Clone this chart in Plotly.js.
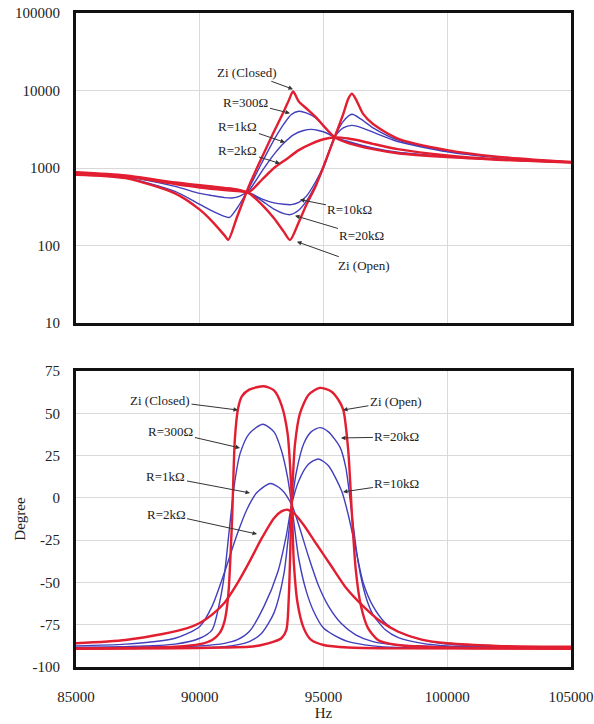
<!DOCTYPE html>
<html>
<head>
<meta charset="utf-8">
<script src="https://cdn.plot.ly/plotly-3.0.1.min.js"></script>
<style>html,body{margin:0;padding:0;background:#fff;}#chart{width:594px;height:724px;}</style>
</head>
<body>
<div id="chart"></div>
<script>
// ---------- Tick labels ----------
const freqTicks = [85000, 90000, 95000, 100000, 105000];
const freqTickText = ['85000', '90000', '95000', '100000', '105000'];
const magTicks = [10, 100, 1000, 10000, 100000];
const magTickText = ['10', '100', '1000', '10000', '100000'];
const phaseTicks = [-100, -75, -50, -25, 0, 25, 50, 75];
const phaseTickText = ['-100', '-75', '-50', '-25', '0', '25', '50', '75'];

// ---------- Impedance magnitude (top) ----------
const magClosedF = [85000, 87000, 89000, 90000, 90500, 91000, 91150, 91500, 92000, 92500, 93000, 93400, 93600, 93770, 94000, 94300, 94700, 95000, 95450, 96000, 97000, 98000, 100000, 102000, 105000];
const magClosedZ = [820, 740, 470, 290, 205, 135, 118, 230, 600, 1350, 2950, 5400, 7500, 9700, 7200, 5900, 4500, 3500, 2500, 2100, 1750, 1550, 1380, 1280, 1180];

const mag300F = [85000, 87000, 89000, 90000, 90500, 91000, 91200, 91500, 92000, 92500, 93000, 93400, 93700, 94000, 94300, 94700, 95000, 95450, 96000, 97000, 98000, 100000, 102000, 105000];
const mag300Z = [830, 750, 500, 340, 280, 238, 230, 300, 560, 1150, 2300, 3700, 4900, 5400, 5150, 4400, 3500, 2500, 2150, 1780, 1570, 1390, 1285, 1180];

const mag1kF = [85000, 87000, 89000, 90000, 90500, 91000, 91300, 91600, 92000, 92500, 93000, 93400, 93800, 94200, 94500, 94800, 95100, 95450, 96000, 97000, 98000, 100000, 102000, 105000];
const mag1kZ = [850, 770, 580, 470, 440, 415, 410, 430, 520, 900, 1500, 2100, 2700, 3050, 3150, 3050, 2850, 2500, 2200, 1820, 1600, 1410, 1295, 1185];

const mag2kF = [85000, 87000, 89000, 90000, 91000, 91500, 92000, 92500, 93000, 93500, 94000, 94500, 95000, 95450, 96000, 96600, 97000, 98000, 100000, 102000, 105000];
const mag2kZ = [860, 780, 620, 560, 520, 505, 495, 700, 1000, 1300, 1700, 2050, 2350, 2480, 2400, 2200, 2050, 1750, 1450, 1300, 1190];

const mag10kF = [85000, 87000, 89000, 90000, 91000, 91500, 92000, 92500, 93000, 93400, 93700, 94000, 94300, 94700, 95000, 95450, 95800, 96150, 96500, 97000, 98000, 100000, 102000, 105000];
const mag10kZ = [875, 795, 640, 590, 545, 520, 480, 400, 355, 340, 337, 360, 430, 680, 1050, 2500, 3300, 3550, 3350, 2900, 2200, 1620, 1370, 1190];

const mag20kF = [85000, 87000, 89000, 90000, 91000, 91500, 92000, 92500, 93000, 93400, 93650, 94000, 94300, 94700, 95000, 95450, 95800, 96150, 96500, 97000, 98000, 100000, 102000, 105000];
const mag20kZ = [878, 798, 645, 595, 550, 525, 475, 380, 295, 258, 250, 285, 370, 620, 1000, 2500, 4000, 4930, 4300, 3300, 2300, 1660, 1390, 1190];

const magOpenF = [85000, 87000, 89000, 90000, 91000, 91500, 92000, 92500, 93000, 93400, 93650, 94000, 94300, 94700, 95000, 95450, 95800, 96000, 96150, 96300, 96600, 97000, 98000, 100000, 102000, 105000];
const magOpenZ = [880, 800, 650, 600, 555, 530, 470, 340, 225, 150, 118, 200, 330, 600, 1050, 2500, 5000, 7800, 9100, 7800, 5000, 3700, 2400, 1700, 1400, 1195];

// ---------- Phase (bottom) ----------
const phClosedF = [85000, 87000, 89000, 90000, 90500, 90800, 91000, 91150, 91300, 91420, 91550, 91700, 92000, 92600, 93000, 93300, 93550, 93700, 93800, 93950, 94200, 94500, 95000, 96000, 98000, 105000];
const phClosedP = [-89, -88.8, -88, -86.5, -84, -80, -73, -58, -15, 35, 53, 60, 64, 66, 63.5, 55, 38, 5, -38, -62, -77, -84, -87, -88.5, -89, -89.2];

const ph300F = [85000, 87000, 89000, 90000, 90500, 90800, 91000, 91200, 91400, 91626, 92000, 92550, 93000, 93300, 93550, 93714, 93850, 94000, 94300, 94600, 95000, 95400, 96000, 97000, 98000, 105000];
const ph300P = [-88.5, -88, -86.5, -83, -78, -62, -45, -18, 8, 26, 38, 43.5, 39, 28, 12, -4, -20, -36, -55, -67, -77, -81, -85, -87.5, -88.5, -89];

const ph1kF = [85000, 87000, 89000, 90000, 90500, 91000, 91500, 91900, 92300, 92850, 93300, 93714, 94000, 94400, 94800, 95200, 95700, 96300, 97000, 98000, 100000, 105000];
const ph1kP = [-87.5, -86.5, -83, -76, -64, -44, -22, -7, 3, 8.5, 5, -4, -16, -35, -52, -64, -74, -81, -85, -87, -88, -88.5];

const ph2kF = [85000, 87000, 88500, 89500, 90000, 90500, 91000, 91500, 92000, 92500, 93000, 93300, 93550, 93800, 94200, 94700, 95300, 95900, 96600, 97300, 98000, 99000, 100000, 102000, 105000];
const ph2kP = [-86, -84, -80.5, -77, -74, -69, -62, -51, -38, -24, -12, -8, -7, -9, -16, -27, -40, -53, -64, -73, -79, -84, -86, -87.5, -88];

const ph10kF = [85000, 89000, 90000, 91000, 91500, 92000, 92600, 93150, 93500, 93714, 94000, 94400, 94800, 95200, 95733, 96000, 96300, 96600, 97000, 97500, 98000, 99000, 100000, 102000, 105000];
const ph10kP = [-88.5, -88, -87.5, -86, -84, -79, -64, -44, -22, -4, 10, 20, 23, 19, 4, -10, -30, -50, -64, -74, -79, -84, -86.5, -88, -88.5];

const ph20kF = [85000, 90000, 91000, 92000, 92500, 93000, 93400, 93714, 93900, 94200, 94500, 94850, 95200, 95666, 95900, 96150, 96400, 96700, 97000, 97500, 98000, 99000, 100000, 102000, 105000];
const ph20kP = [-89, -88.5, -88, -85, -80, -68, -45, -4, 15, 32, 39, 41.5, 39, 30, 18, -10, -38, -58, -69, -78, -82.5, -86, -87.5, -88.5, -89];

const phOpenF = [85000, 89000, 91000, 92000, 92500, 93000, 93300, 93500, 93600, 93714, 93850, 94050, 94400, 94850, 95300, 95600, 95800, 96000, 96150, 96300, 96500, 96800, 97200, 98000, 100000, 105000];
const phOpenP = [-89.2, -89, -88.5, -88, -87, -85, -83, -78, -58, -4, 32, 50, 61, 65, 63, 58, 52, 28, -10, -42, -63, -77, -84, -87, -88.5, -89];

// ---------- Styles ----------
const RED = 'rgb(226,30,48)';
const BLUE = 'rgb(66,62,188)';
function tr(x, y, color, width, xa, ya) {
  return {x: x, y: y, xaxis: xa, yaxis: ya, type: 'scatter', mode: 'lines',
          line: {color: color, width: width, shape: 'spline', smoothing: 0.7},
          hoverinfo: 'skip'};
}

const data = [
  tr(mag300F, mag300Z, BLUE, 1.4, 'x', 'y'),
  tr(mag1kF, mag1kZ, BLUE, 1.4, 'x', 'y'),
  tr(mag10kF, mag10kZ, BLUE, 1.4, 'x', 'y'),
  tr(mag20kF, mag20kZ, BLUE, 1.4, 'x', 'y'),
  tr(mag2kF, mag2kZ, RED, 2.4, 'x', 'y'),
  tr(magClosedF, magClosedZ, RED, 2.4, 'x', 'y'),
  tr(magOpenF, magOpenZ, RED, 2.4, 'x', 'y'),
  tr(ph300F, ph300P, BLUE, 1.4, 'x2', 'y2'),
  tr(ph1kF, ph1kP, BLUE, 1.4, 'x2', 'y2'),
  tr(ph10kF, ph10kP, BLUE, 1.4, 'x2', 'y2'),
  tr(ph20kF, ph20kP, BLUE, 1.4, 'x2', 'y2'),
  tr(ph2kF, ph2kP, RED, 2.4, 'x2', 'y2'),
  tr(phClosedF, phClosedP, RED, 2.4, 'x2', 'y2'),
  tr(phOpenF, phOpenP, RED, 2.4, 'x2', 'y2')
];

function ann(text, x, y, ax, ay, xa, ya) {
  return {text: text, x: x, y: y, xref: xa, yref: ya, ax: ax, ay: ay,
          showarrow: true, arrowhead: 2, arrowsize: 0.9, arrowwidth: 1, arrowcolor: '#333',
          font: {family: 'Liberation Serif, Times New Roman, serif', size: 13, color: '#222'},
          standoff: 0, startstandoff: 0};
}

const annotations = [
  ann('Zi (Closed)', 93767, 4.016, -46, -17, 'x', 'y'),
  ann('R=300Ω', 93646, 3.706, -44, -11, 'x', 'y'),
  ann('R=1kΩ', 93444, 3.330, -47, -16, 'x', 'y'),
  ann('R=2kΩ', 93242, 3.058, -42, -13, 'x', 'y'),
  ann('R=10kΩ', 94050, 2.592, 50, 10, 'x', 'y'),
  ann('R=20kΩ', 93848, 2.385, 67, 20, 'x', 'y'),
  ann('Zi (Open)', 93928, 2.049, 67, 24, 'x', 'y'),
  ann('Zi (Closed)', 91545, 51.9, -78, -10, 'x2', 'y2'),
  ann('R=300Ω', 91626, 29.5, -69, -16, 'x2', 'y2'),
  ann('R=1kΩ', 92030, 2.9, -84, -16, 'x2', 'y2'),
  ann('R=2kΩ', 92313, -21.4, -91, -20, 'x2', 'y2'),
  ann('Zi (Open)', 95787, 51.9, 53, -9, 'x2', 'y2'),
  ann('R=20kΩ', 95706, 35.4, 56, -1, 'x2', 'y2'),
  ann('R=10kΩ', 95787, 3.5, 54, -8, 'x2', 'y2')
];

const axisCommon = {
  showgrid: true, gridcolor: '#d9d9d9', gridwidth: 1,
  showline: true, mirror: true, linecolor: '#111', linewidth: 3,
  zeroline: false, ticks: '', ticklabelstandoff: 10,
  tickfont: {family: 'Liberation Serif, Times New Roman, serif', size: 15, color: '#222'}
};

const layout = {
  width: 594, height: 724,
  margin: {l: 76, r: 23, t: 13, b: 57},
  paper_bgcolor: '#fff', plot_bgcolor: '#fff',
  showlegend: false,
  font: {family: 'Liberation Serif, Times New Roman, serif', size: 15, color: '#222'},
  annotations: annotations,
  xaxis: Object.assign({}, axisCommon, {domain: [0, 1], anchor: 'y', range: [85000, 105000],
          tickvals: freqTicks, ticktext: freqTickText, showticklabels: false}),
  yaxis: Object.assign({}, axisCommon, {domain: [0.526, 1], anchor: 'x', type: 'log', range: [1, 5],
          tickvals: magTicks, ticktext: magTickText}),
  xaxis2: Object.assign({}, axisCommon, {domain: [0, 1], anchor: 'y2', range: [85000, 105000],
          tickvals: freqTicks, ticktext: freqTickText, ticklabelstandoff: 14,
          title: {text: 'Hz', standoff: 4, font: {family: 'Liberation Serif, Times New Roman, serif', size: 15, color: '#222'}}}),
  yaxis2: Object.assign({}, axisCommon, {domain: [0, 0.4526], anchor: 'x2', range: [-100, 75],
          tickvals: phaseTicks, ticktext: phaseTickText,
          title: {text: 'Degree', standoff: 4, font: {family: 'Liberation Serif, Times New Roman, serif', size: 15, color: '#222'}}})
};

Plotly.newPlot('chart', data, layout, {staticPlot: true, displayModeBar: false});
</script>
</body>
</html>
